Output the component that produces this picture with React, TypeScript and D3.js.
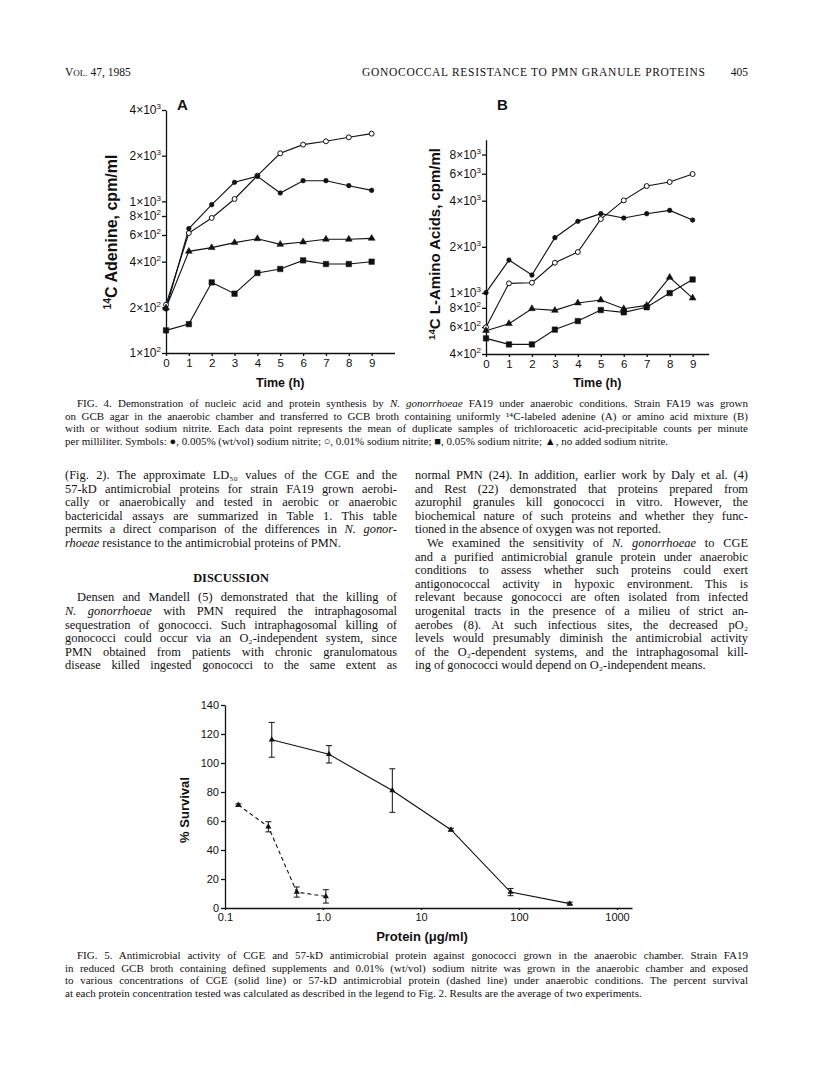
import React, { useEffect, useRef } from "react";
import * as d3 from "d3";

// ---- Fig. 4 data ----
const timeH = [0, 1, 2, 3, 4, 5, 6, 7, 8, 9];

const adenineNitrite005 = [195, 661, 950, 1334, 1462, 1135, 1368, 1368, 1268, 1181];
const adenineNitrite01 = [208, 618, 777, 1036, 1476, 2072, 2364, 2486, 2642, 2793];
const adenineNitrite05 = [141, 155, 292, 246, 337, 358, 408, 386, 386, 400];
const adenineNoNitrite = [198, 468, 495, 534, 567, 520, 539, 562, 562, 570];

const aminoNitrite005 = [1005, 1640, 1309, 2295, 2933, 3291, 3083, 3291, 3459, 2990];
const aminoNitrite01 = [597, 1156, 1167, 1575, 1850, 3036, 4020, 4985, 5295, 5970];
const aminoNitrite05 = [506, 462, 462, 577, 656, 774, 748, 807, 999, 1225];
const aminoNoNitrite = [568, 631, 790, 770, 861, 900, 790, 830, 1265, 927];

const adenineTicks = [100, 200, 400, 600, 800, 1000, 2000, 4000];
const aminoTicks = [400, 600, 800, 1000, 2000, 4000, 6000, 8000];

// ---- Fig. 5 data ----
const cgeDose = [0.3, 1.15, 5.1, 20.2, 82, 330];
const cgeSurvival = [116, 106, 81, 54, 11, 3];
const cgeError = [12, 6, 15, 1, 2.5, 1];

const kd57Dose = [0.137, 0.277, 0.54, 1.07];
const kd57Survival = [71, 56, 11, 8];
const kd57Error = [0.8, 3.5, 3.5, 4.6];

const survivalTicks = [0, 20, 40, 60, 80, 100, 120, 140];
const proteinTicks = [0.1, 1, 10, 100, 1000];
const proteinTickLabels = ["0.1", "1.0", "10", "100", "1000"];

// ---- page text (*...* = italic) ----
const fig4Caption = [
  "FIG. 4. Demonstration of nucleic acid and protein synthesis by *N. gonorrhoeae* FA19 under anaerobic conditions. Strain FA19 was grown",
  "on GCB agar in the anaerobic chamber and transferred to GCB broth containing uniformly ¹⁴C-labeled adenine (A) or amino acid mixture (B)",
  "with or without sodium nitrite. Each data point represents the mean of duplicate samples of trichloroacetic acid-precipitable counts per minute",
  "per milliliter. Symbols: ●, 0.005% (wt/vol) sodium nitrite; ○, 0.01% sodium nitrite; ■, 0.05% sodium nitrite; ▲, no added sodium nitrite.",
];

const leftColumn = [
  "(Fig. 2). The approximate LD₅₀ values of the CGE and the",
  "57-kD antimicrobial proteins for strain FA19 grown aerobi-",
  "cally or anaerobically and tested in aerobic or anaerobic",
  "bactericidal assays are summarized in Table 1. This table",
  "permits a direct comparison of the differences in *N. gonor-*",
  "*rhoeae* resistance to the antimicrobial proteins of PMN.",
];

const discussion = [
  "Densen and Mandell (5) demonstrated that the killing of",
  "*N. gonorrhoeae* with PMN required the intraphagosomal",
  "sequestration of gonococci. Such intraphagosomal killing of",
  "gonococci could occur via an O₂-independent system, since",
  "PMN obtained from patients with chronic granulomatous",
  "disease killed ingested gonococci to the same extent as",
];

const rightColumn = [
  "normal PMN (24). In addition, earlier work by Daly et al. (4)",
  "and Rest (22) demonstrated that proteins prepared from",
  "azurophil granules kill gonococci in vitro. However, the",
  "biochemical nature of such proteins and whether they func-",
  "tioned in the absence of oxygen was not reported.",
  "We examined the sensitivity of *N. gonorrhoeae* to CGE",
  "and a purified antimicrobial granule protein under anaerobic",
  "conditions to assess whether such proteins could exert",
  "antigonococcal activity in hypoxic environment. This is",
  "relevant because gonococci are often isolated from infected",
  "urogenital tracts in the presence of a milieu of strict an-",
  "aerobes (8). At such infectious sites, the decreased pO₂",
  "levels would presumably diminish the antimicrobial activity",
  "of the O₂-dependent systems, and the intraphagosomal kill-",
  "ing of gonococci would depend on O₂-independent means.",
];

const fig5Caption = [
  "FIG. 5. Antimicrobial activity of CGE and 57-kD antimicrobial protein against gonococci grown in the anaerobic chamber. Strain FA19",
  "in reduced GCB broth containing defined supplements and 0.01% (wt/vol) sodium nitrite was grown in the anaerobic chamber and exposed",
  "to various concentrations of CGE (solid line) or 57-kD antimicrobial protein (dashed line) under anaerobic conditions. The percent survival",
  "at each protein concentration tested was calculated as described in the legend to Fig. 2. Results are the average of two experiments.",
];

const serif = "'Liberation Serif', 'Times New Roman', serif";
const sans = "'Liberation Sans', Arial, Helvetica, sans-serif";

type Sel = d3.Selection<any, any, any, any>;

// one line of text with *italic* runs; word-spacing stretches it to width when given
function richLine(parent: Sel, str: string, x: number, y: number, size: number, width?: number) {
  const t = parent.append("text")
    .attr("x", x).attr("y", y)
    .attr("font-family", serif)
    .attr("font-size", size)
    .attr("fill", "#111");
  const parts = str.split(/(\*[^*]*\*)/).filter(p => p.length);
  let plain = "";
  parts.forEach(p => {
    const italic = p.startsWith("*");
    const txt = italic ? p.slice(1, -1) : p;
    const ts = t.append("tspan").text(txt);
    if (italic) ts.attr("font-style", "italic");
    plain += txt;
  });
  if (width) {
    const w = (t.node() as SVGTextElement).getComputedTextLength();
    const spaces = (plain.match(/ /g) || []).length;
    if (spaces > 0) t.attr("word-spacing", (width - w) / spaces);
  }
  return t;
}

function paragraphLines(parent: Sel, lines: string[], x: number, y0: number, lead: number, size: number,
  width: number, lastLines: number[], indents: number[]) {
  lines.forEach((ln, i) => {
    const ind = indents.includes(i) ? 12 : 0;
    const justify = lastLines.includes(i) ? undefined : width - ind;
    richLine(parent, ln, x + ind, y0 + i * lead, size, justify);
  });
}

type Series = { vals: number[]; kind: "dot" | "ring" | "square" | "tri" };

function drawPanel(svg: Sel, p: {
  left: number; right: number; xMax: number; top: number; bottom: number;
  yDomain: [number, number]; yTicks: number[]; series: Series[];
  letter: string; letterX: number; yLabel: string; yLabelX: number; yLabelY: number; yLabelSize: number;
}) {
  const x = d3.scaleLinear().domain([0, p.xMax]).range([p.left, p.right]);
  const y = d3.scaleLog().domain(p.yDomain).range([p.bottom, p.top]);
  const g = svg.append("g");

  const gy = g.append("g").attr("transform", `translate(${p.left},0)`)
    .call(d3.axisLeft(y).tickValues(p.yTicks).tickSize(4).tickSizeOuter(0).tickFormat(() => ""));
  gy.selectAll("path,line").attr("stroke", "#111").attr("stroke-width", 1.3);
  p.yTicks.forEach(v => {
    const e = Math.floor(Math.log10(v) + 1e-9);
    const m = Math.round(v / Math.pow(10, e));
    const t = g.append("text").attr("x", p.left - 5).attr("y", y(v) + 4.2)
      .attr("text-anchor", "end").attr("font-family", sans).attr("font-size", 12).attr("fill", "#111");
    t.append("tspan").text(`${m}×10`);
    t.append("tspan").text(String(e)).attr("font-size", 8).attr("dy", -5);
  });

  const gx = g.append("g").attr("transform", `translate(0,${p.bottom})`)
    .call(d3.axisBottom(x).tickValues(timeH).tickSize(3).tickSizeOuter(0).tickFormat(d3.format("d")));
  gx.selectAll("path,line").attr("stroke", "#111").attr("stroke-width", 1.3);
  gx.selectAll("text").attr("font-family", sans).attr("font-size", 11.5).attr("fill", "#111");

  const line = d3.line<number>().x((_, i) => x(timeH[i])).y(d => y(d));
  p.series.forEach(s => {
    g.append("path").attr("d", line(s.vals)).attr("fill", "none").attr("stroke", "#111").attr("stroke-width", 1.1);
  });
  p.series.forEach(s => {
    const sym = d3.symbol()
      .type(s.kind === "square" ? d3.symbolSquare : s.kind === "tri" ? d3.symbolTriangle : d3.symbolCircle)
      .size(s.kind === "square" ? 30 : s.kind === "tri" ? 20 : s.kind === "ring" ? 19 : 17);
    g.selectAll(null).data(s.vals).enter().append("path")
      .attr("d", sym()!)
      .attr("transform", (d, i) => `translate(${x(timeH[i])},${y(d)})`)
      .attr("fill", s.kind === "ring" ? "#fff" : "#111")
      .attr("stroke", "#111").attr("stroke-width", s.kind === "ring" ? 1 : 0.5);
  });

  g.append("text").attr("x", p.letterX).attr("y", 110).attr("font-family", sans)
    .attr("font-weight", "bold").attr("font-size", 15).attr("fill", "#111").text(p.letter);

  const yl = g.append("text")
    .attr("transform", `translate(${p.yLabelX},${p.yLabelY}) rotate(-90)`)
    .attr("text-anchor", "middle").attr("font-family", sans).attr("font-weight", "bold")
    .attr("font-size", p.yLabelSize).attr("fill", "#111");
  yl.append("tspan").text("14").attr("font-size", p.yLabelSize * 0.65).attr("dy", -p.yLabelSize * 0.35);
  yl.append("tspan").text(p.yLabel).attr("dy", p.yLabelSize * 0.35);

  g.append("text").attr("x", (p.left + p.right) / 2).attr("y", 387).attr("text-anchor", "middle")
    .attr("font-family", sans).attr("font-weight", "bold").attr("font-size", 12.5).attr("fill", "#111")
    .text("Time (h)");
}

function drawFig5(svg: Sel) {
  const x = d3.scaleLog().domain([0.1, 1000]).range([225, 617]);
  const xAxisScale = x.copy().domain([0.1, x.invert(632)]).range([225, 632]);
  const y = d3.scaleLinear().domain([0, 140]).range([908, 705]);
  const g = svg.append("g");

  const gy = g.append("g").attr("transform", "translate(225,0)")
    .call(d3.axisLeft(y).tickValues(survivalTicks).tickSize(4).tickSizeOuter(0));
  gy.selectAll("path,line").attr("stroke", "#111").attr("stroke-width", 1.3);
  gy.selectAll("text").attr("font-family", sans).attr("font-size", 11).attr("fill", "#111").attr("dx", 1);

  const gx = g.append("g").attr("transform", "translate(0,908)")
    .call(d3.axisBottom(xAxisScale).tickValues(proteinTicks).tickSize(2).tickSizeOuter(0)
      .tickFormat((_, i) => proteinTickLabels[i]));
  gx.selectAll("path,line").attr("stroke", "#111").attr("stroke-width", 1.4);
  gx.selectAll("text").attr("font-family", sans).attr("font-size", 11).attr("fill", "#111");

  const draw = (dose: number[], surv: number[], err: number[], dashed: boolean) => {
    const pts = dose.map((d, i) => ({ d, s: surv[i], e: err[i] }));
    g.append("path")
      .attr("d", d3.line<any>().x(p => x(p.d)).y(p => y(p.s))(pts))
      .attr("fill", "none").attr("stroke", "#111").attr("stroke-width", 1.1)
      .attr("stroke-dasharray", dashed ? "4,3" : null);
    pts.forEach(p => {
      const cx = x(p.d);
      g.append("line").attr("x1", cx).attr("x2", cx).attr("y1", y(p.s - p.e)).attr("y2", y(p.s + p.e))
        .attr("stroke", "#111").attr("stroke-width", 1);
      [p.s - p.e, p.s + p.e].forEach(v => {
        g.append("line").attr("x1", cx - 3).attr("x2", cx + 3).attr("y1", y(v)).attr("y2", y(v))
          .attr("stroke", "#111").attr("stroke-width", 1);
      });
      g.append("path").attr("d", d3.symbol().type(d3.symbolTriangle).size(16)()!)
        .attr("transform", `translate(${cx},${y(p.s)})`).attr("fill", "#111");
    });
  };
  draw(cgeDose, cgeSurvival, cgeError, false);
  draw(kd57Dose, kd57Survival, kd57Error, true);

  g.append("text").attr("transform", "translate(189,810) rotate(-90)").attr("text-anchor", "middle")
    .attr("font-family", sans).attr("font-weight", "bold").attr("font-size", 13).attr("fill", "#111")
    .text("% Survival");
  g.append("text").attr("x", 422).attr("y", 941).attr("text-anchor", "middle")
    .attr("font-family", sans).attr("font-weight", "bold").attr("font-size", 13).attr("fill", "#111")
    .text("Protein (μg/ml)");
}

export default function App() {
  const ref = useRef<SVGSVGElement>(null);

  useEffect(() => {
    const svg = d3.select(ref.current);
    svg.selectAll("*").remove();
    svg.append("rect").attr("width", 816).attr("height", 1084).attr("fill", "#fff");

    // running head
    const hd = svg.append("text").attr("x", 65).attr("y", 76).attr("font-family", serif)
      .attr("font-size", 11.5).attr("fill", "#111");
    hd.append("tspan").text("V");
    hd.append("tspan").text("OL.").attr("font-size", 9);
    hd.append("tspan").text(" 47, 1985");
    svg.append("text").attr("x", 362).attr("y", 76).attr("font-family", serif).attr("font-size", 11.5)
      .attr("fill", "#111").attr("textLength", 343).attr("lengthAdjust", "spacing")
      .text("GONOCOCCAL RESISTANCE TO PMN GRANULE PROTEINS");
    svg.append("text").attr("x", 748).attr("y", 76).attr("text-anchor", "end").attr("font-family", serif)
      .attr("font-size", 11.5).attr("fill", "#111").text("405");

    drawPanel(svg, {
      left: 166, right: 394.5, xMax: 10, top: 110, bottom: 353,
      yDomain: [100, 4000], yTicks: adenineTicks,
      series: [
        { vals: adenineNitrite01, kind: "ring" },
        { vals: adenineNitrite005, kind: "dot" },
        { vals: adenineNoNitrite, kind: "tri" },
        { vals: adenineNitrite05, kind: "square" },
      ],
      letter: "A", letterX: 177, yLabel: "C Adenine, cpm/ml", yLabelX: 117, yLabelY: 232, yLabelSize: 16,
    });
    drawPanel(svg, {
      left: 486, right: 708.7, xMax: 9.7, top: 139.7, bottom: 354,
      yDomain: [400, 10000], yTicks: aminoTicks,
      series: [
        { vals: aminoNitrite01, kind: "ring" },
        { vals: aminoNitrite005, kind: "dot" },
        { vals: aminoNoNitrite, kind: "tri" },
        { vals: aminoNitrite05, kind: "square" },
      ],
      letter: "B", letterX: 497, yLabel: "C L-Amino Acids, cpm/ml", yLabelX: 440, yLabelY: 244, yLabelSize: 15,
    });

    const capW = 748 - 65;
    fig4Caption.forEach((ln, i) => {
      const ind = i === 0 ? 12 : 0;
      richLine(svg, ln, 65 + ind, 407 + i * 12.5, 11, i < 3 ? capW - ind : undefined);
    });

    const lead = 13.6;
    const y0 = 479;
    const bodySize = 12.4;
    paragraphLines(svg, leftColumn, 65, y0, lead, bodySize, 332, [5], []);
    svg.append("text").attr("x", 231).attr("y", y0 + 7.55 * lead).attr("text-anchor", "middle")
      .attr("font-family", serif).attr("font-weight", "bold").attr("font-size", bodySize).attr("fill", "#111")
      .text("DISCUSSION");
    paragraphLines(svg, discussion, 65, y0 + 9 * lead, lead, bodySize, 332, [], [0]);
    paragraphLines(svg, rightColumn, 415, y0, lead, bodySize, 333, [4, 14], [5]);

    drawFig5(svg);

    fig5Caption.forEach((ln, i) => {
      const ind = i === 0 ? 12 : 0;
      richLine(svg, ln, 65 + ind, 959 + i * 12.6, 11, i < 3 ? capW - ind : undefined);
    });
  }, []);

  return (
    <svg ref={ref} width={816} height={1084}
      style={{ position: "absolute", left: 0, top: 0, display: "block" }} />
  );
}
